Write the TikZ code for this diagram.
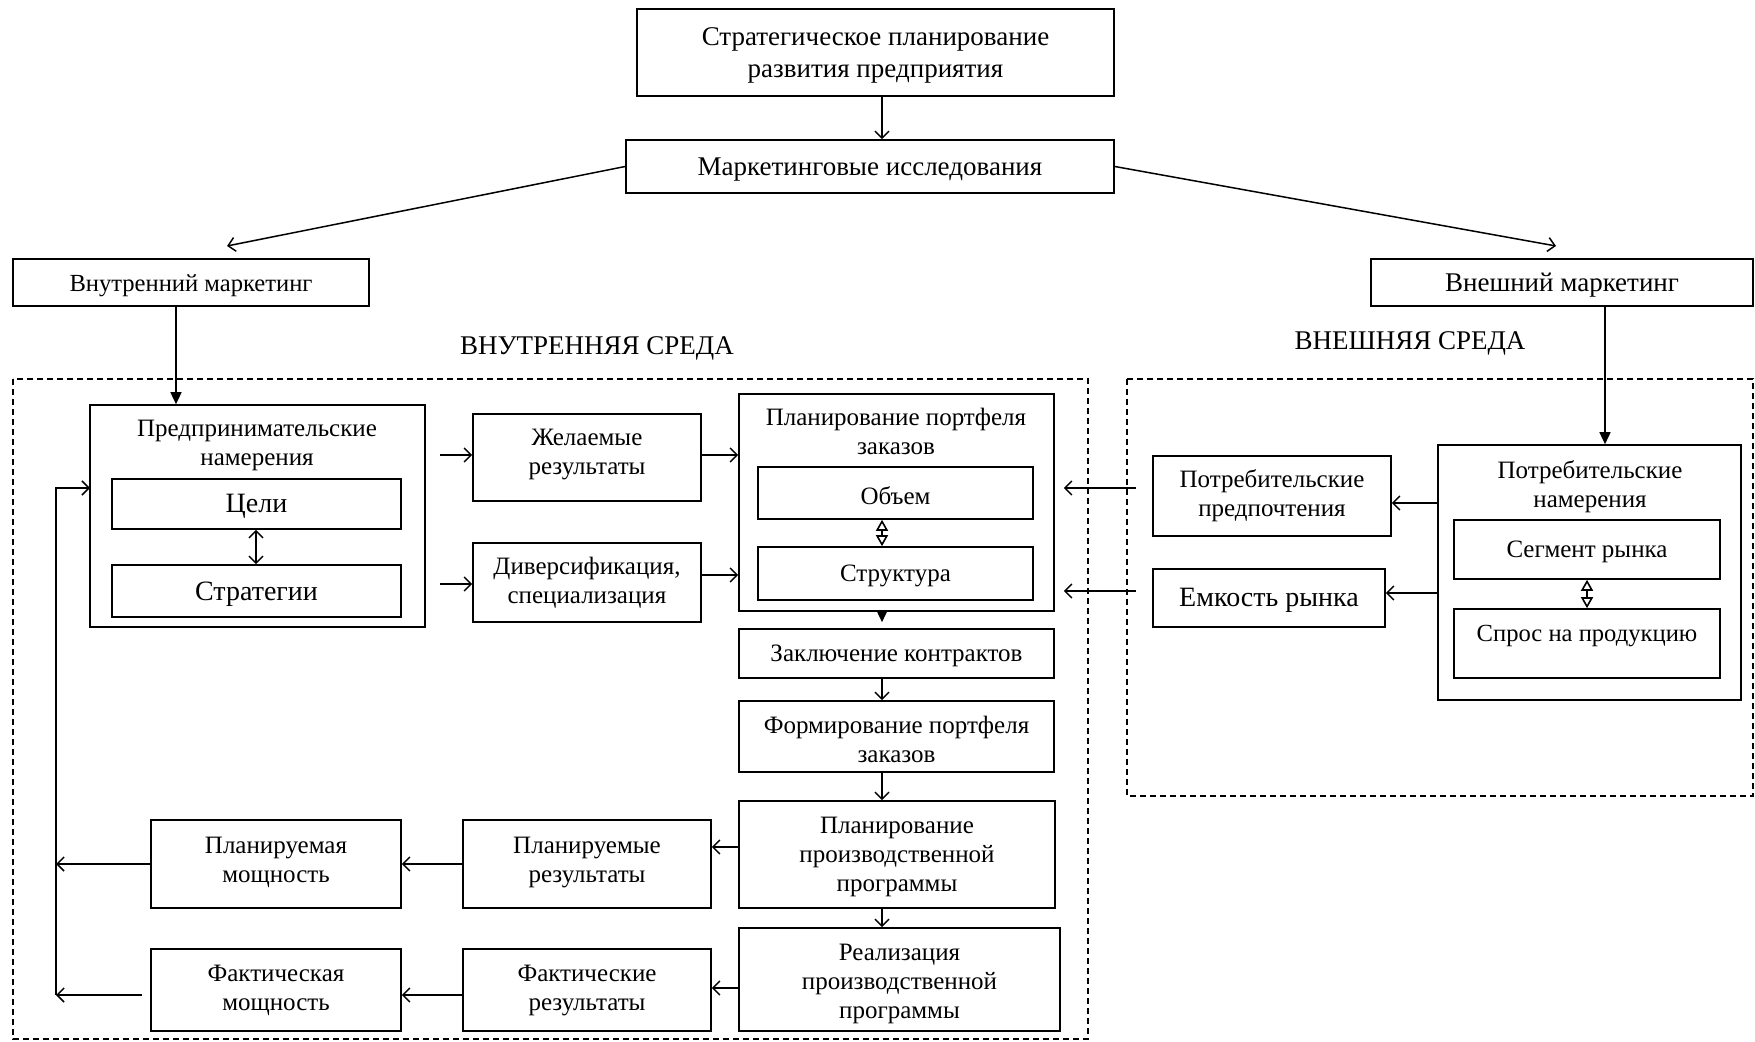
\documentclass[tikz,border=0pt]{standalone}
\usepackage{fontspec}
\setmainfont{Liberation Serif}
\usetikzlibrary{arrows.meta,calc}
\newcommand\fa{\fontsize{12.5pt}{14.5pt}\selectfont}
\newcommand\fb{\fontsize{13.5pt}{16.2pt}\selectfont}
\newcommand\fc{\fontsize{14pt}{16pt}\selectfont}
\newcommand\fd{\fontsize{12.3pt}{14.5pt}\selectfont}
\tikzset{
  box/.style={draw,line width=0.8pt,inner sep=0pt},
  lab/.style={align=center,inner sep=0pt,font=\fa},
  envbox/.style={draw,line width=0.75pt,dash pattern=on 3pt off 2pt},
  arr/.style={line width=0.75pt,-{Straight Barb[length=3.5pt,width=7pt,line width=0.75pt]}},
  farr/.style={line width=0.75pt,-{Triangle[length=6pt,width=5.5pt]}},
  darr/.style={line width=0.75pt,{Straight Barb[length=3.5pt,width=7pt,line width=0.75pt]}-{Straight Barb[length=3.5pt,width=7pt,line width=0.75pt]}},
  harr/.style={line width=0.75pt,{Triangle[open,length=5.5pt,width=6pt,line width=0.8pt]}-{Triangle[open,length=5.5pt,width=6pt,line width=0.8pt]}},
}
% box with its text set slightly low, as in the reference
\newcommand\bx[7][]{\node[box,minimum width={(#5-#3)*0.5pt},minimum height={(#6-#4)*0.5pt}] (#2) at ({(#3+#5)/2},{(#4+#6)/2}) {};
  \node[lab,#1] (#2t) at ([yshift=-1.4pt]#2.center) {#7};}
\begin{document}
\begin{tikzpicture}[x=0.5pt,y=-0.5pt]
\useasboundingbox (0,0) rectangle (1755,1042);
% environments
\draw[envbox] (13,379) rectangle (1088,1039);
\draw[envbox] (1127,379) rectangle (1753,796);
\node[lab,font=\fb] (envin) at (597,348) {ВНУТРЕННЯЯ СРЕДА};
\node[lab,font=\fb] (envout) at (1410,343) {ВНЕШНЯЯ СРЕДА};
% top
\bx[font=\fb]{top}{637}{9}{1114}{96}{Стратегическое планирование\\развития предприятия}
\bx[font=\fb]{mr}{626}{140}{1114}{193}{Маркетинговые исследования}
\bx[font=\fd]{im}{13}{259}{369}{306}{Внутренний маркетинг}
\bx[font=\fb]{em}{1371}{259}{1753}{306}{Внешний маркетинг}
% internal
\bx{pn}{90}{405}{425}{627}{}
\node[lab] (pnt) at (257,445) {Предпринимательские\\намерения};
\bx[font=\fc]{goals}{112}{479}{401}{529}{Цели}
\bx[font=\fc]{strat}{112}{565}{401}{617}{Стратегии}
\bx[yshift=2.8pt]{des}{473}{414}{701}{501}{Желаемые\\результаты}
\bx[yshift=1.4pt]{div}{473}{543}{701}{622}{Диверсификация,\\специализация}
\bx{ppz}{739}{394}{1054}{611}{}
\node[lab] (ppzt) at (896,431) {Планирование портфеля\\заказов};
\bx{vol}{758}{467}{1033}{519}{Объем}
\bx{str}{758}{547}{1033}{600}{Структура}
\bx{contr}{739}{629}{1054}{678}{Заключение контрактов}
\bx{form}{739}{701}{1054}{772}{Формирование портфеля\\заказов}
\bx{ppp}{739}{801}{1055}{908}{Планирование\\производственной\\программы}
\bx[yshift=-0.6pt]{real}{739}{928}{1060}{1031}{Реализация\\производственной\\программы}
\bx[yshift=2.2pt]{plres}{463}{820}{711}{908}{Планируемые\\результаты}
\bx[yshift=1.1pt]{factres}{463}{949}{711}{1031}{Фактические\\результаты}
\bx[yshift=2.2pt]{plcap}{151}{820}{401}{908}{Планируемая\\мощность}
\bx[yshift=1.1pt]{factcap}{151}{949}{401}{1031}{Фактическая\\мощность}
% external
\bx[yshift=1.7pt]{pref}{1153}{456}{1391}{536}{Потребительские\\предпочтения}
\bx[font=\fc]{cap}{1153}{569}{1385}{627}{Емкость рынка}
\bx{cn}{1438}{445}{1741}{700}{}
\node[lab] (cnt) at (1590,487) {Потребительские\\намерения};
\bx{seg}{1454}{520}{1720}{579}{Сегмент рынка}
\bx{dem}{1454}{609}{1720}{678}{}
\node[lab,font=\fd] (demt) at (1587,636) {Спрос на продукцию};
% coordinates
\coordinate (fbin) at (90,488);
\coordinate (fbtop) at (56,488);
\coordinate (fbbot) at (56,995);
\coordinate (fbmid) at (56,864);
\coordinate (a1) at (1136,488);
\coordinate (a2) at (1136,591);
\coordinate (b1) at (1438,503);
\coordinate (c1) at (739,847);
\coordinate (c2) at (739,988);
\coordinate (d1) at (142,995);
\coordinate (m1) at (227,246);
\coordinate (m2) at (1556,246);
\coordinate (colx) at (882,0);
% connectors
\draw[arr] (top.south -| colx) -- (mr.north -| colx);
\draw[arr] (mr.west) -- (m1);
\draw[arr] (mr.east) -- (m2);
\draw[farr] (im.south -| 176,0) -- (pn.north -| 176,0);
\draw[farr] (em.south -| 1605,0) -- (cn.north -| 1605,0);
\draw[darr] (goals.south -| 256,0) -- (strat.north -| 256,0);
\draw[harr] (vol.south -| colx) -- (str.north -| colx);
\draw[harr] (seg.south) -- (dem.north);
\draw[farr,shorten >=3pt] (ppz.south -| colx) -- (contr.north -| colx);
\draw[arr] (contr.south -| colx) -- (form.north -| colx);
\draw[arr] (form.south -| colx) -- (ppp.north -| colx);
\draw[arr] (ppp.south -| colx) -- (real.north -| colx);
\draw[arr,shorten <=7pt] (pn.east |- 0,455) -- (des.west |- 0,455);
\draw[arr,shorten <=7pt] (pn.east |- 0,584) -- (div.west |- 0,584);
\draw[arr] (des.east |- 0,455) -- (ppz.west |- 0,455);
\draw[arr] (div.east |- 0,575) -- (ppz.west |- 0,575);
\draw[arr,shorten >=4.5pt] (a1) -- (ppz.east |- a1);
\draw[arr,shorten >=4.5pt] (a2) -- (ppz.east |- a2);
\draw[arr] (b1) -- (pref.east |- b1);
\draw[arr] (cn.west |- 0,593) -- (cap.east |- 0,593);
\draw[arr] (c1) -- (plres.east |- c1);
\draw[arr] (c2) -- (factres.east |- c2);
\draw[arr] (plres.west |- 0,864) -- (plcap.east |- 0,864);
\draw[arr] (factres.west |- 0,995) -- (factcap.east |- 0,995);
\draw[arr] (plcap.west |- fbmid) -- (fbmid);
\draw[arr] (d1) -- (fbbot);
\draw[arr] (fbbot) -- (fbtop) -- (fbin);
\end{tikzpicture}
\end{document}
